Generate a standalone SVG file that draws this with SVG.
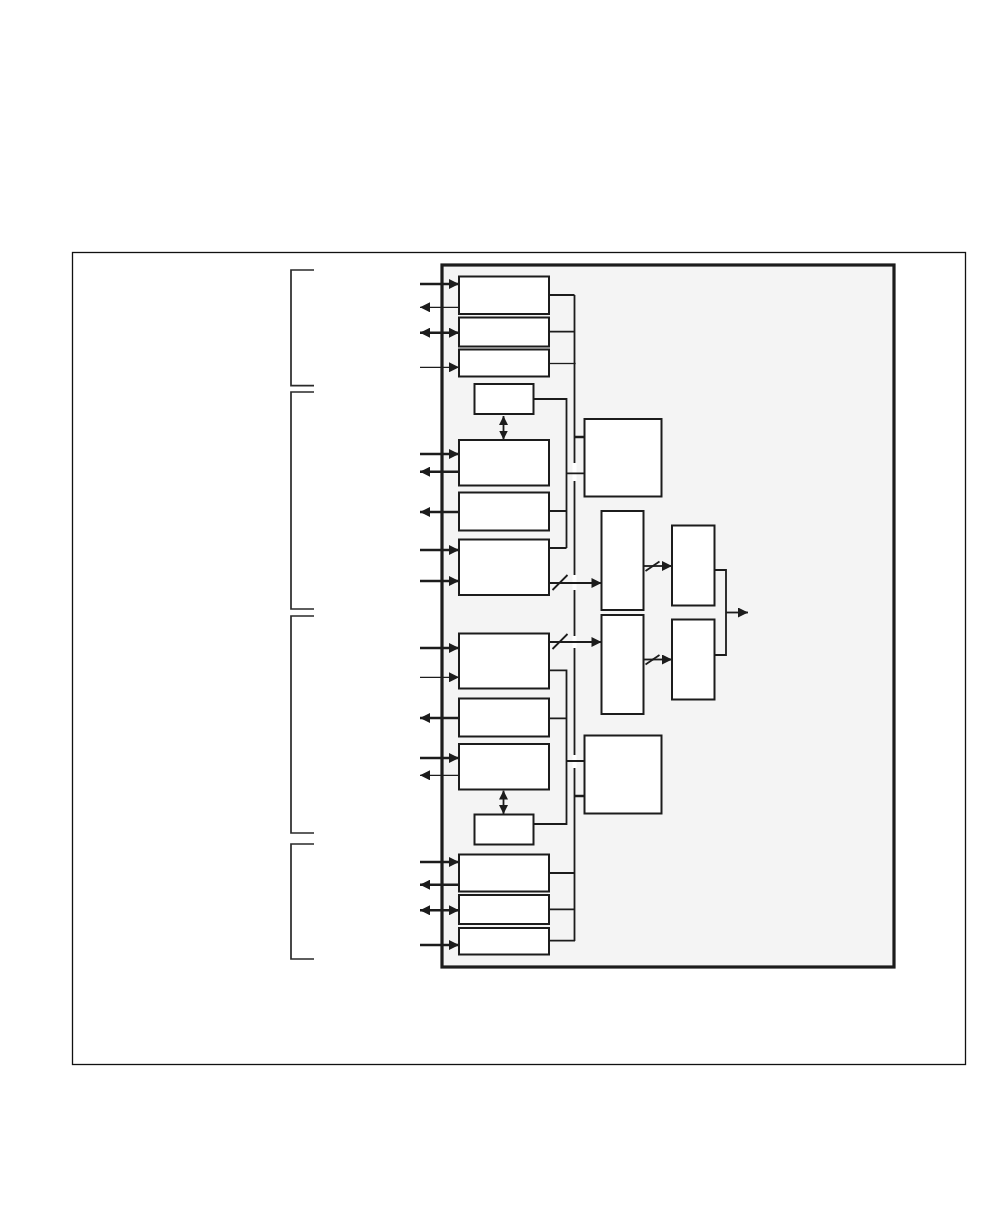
<svg xmlns="http://www.w3.org/2000/svg" width="1008" height="1224" viewBox="0 0 1008 1224">
<defs>
<style>
.frame{fill:none;stroke:#111;stroke-width:1.3}
.main{fill:#f4f4f4;stroke:#1c1c1c;stroke-width:3.2}
.br{fill:none;stroke:#2a2a2a;stroke-width:1.7}
.box{fill:#fff;stroke:#1c1c1c;stroke-width:2}
.w{fill:none;stroke:#1c1c1c;stroke-width:1.8}
.tk{fill:none;stroke:#1c1c1c;stroke-width:2.6}
.tn{fill:none;stroke:#1c1c1c;stroke-width:1.3}
.gap{fill:#fff;stroke:none}
</style>
<marker id="ah" viewBox="0 0 10 10" refX="10" refY="5" markerWidth="11" markerHeight="10" markerUnits="userSpaceOnUse" orient="auto-start-reverse"><path d="M0,0 L10,5 L0,10 z" fill="#1c1c1c"/></marker>
<marker id="ahs" viewBox="0 0 10 10" refX="10" refY="5" markerWidth="9" markerHeight="9" markerUnits="userSpaceOnUse" orient="auto-start-reverse"><path d="M0,0 L10,5 L0,10 z" fill="#1c1c1c"/></marker>
</defs>
<rect class="frame" x="72.5" y="252.5" width="893" height="812"/>
<g id="brackets">
<path class="br" d="M314,270 H291 V385.7 H314"/>
<path class="br" d="M314,392 H291 V609 H314"/>
<path class="br" d="M314,616 H291 V833 H314"/>
<path class="br" d="M314,844 H291 V959 H314"/>
</g>
<g id="chip"><rect class="main" x="442" y="265" width="452" height="702"/></g>
<g id="connectors">
<path class="w" d="M574.5,295 V463 M574.5,481 V575 M574.5,590 V636 M574.5,648 V755 M574.5,768 V941"/>
<rect class="gap" x="572.5" y="463" width="4" height="18"/>
<rect class="gap" x="572.5" y="575" width="4" height="15"/>
<rect class="gap" x="572.5" y="636" width="4" height="12"/>
<rect class="gap" x="572.5" y="755" width="4" height="13"/>
<path class="w" d="M549,295 H574.5 M549,331.7 H574.5"/>
<path class="tn" d="M549,363.5 H575.5"/>
<path class="tk" d="M574.5,437 H584.5 M574.5,796 H584.5"/>
<path class="w" d="M533.5,399 H566.5 V548 M549,511 H566.5 M549,548 H566.5 M566.5,473.3 H584.5"/>
<path class="w" d="M549,670.3 H566.5 V824 H533.5 M549,718.3 H566.5 M566.5,761 H584.5"/>
<path class="w" d="M549,873 H575 M549,909.3 H575 M549,940.7 H575"/>
<path class="w" d="M549,583 H601.5" marker-end="url(#ah)"/>
<path class="w" d="M552.5,590 L567.5,575"/>
<path class="w" d="M549,642 H601.5" marker-end="url(#ah)"/>
<path class="w" d="M552.5,649 L567.5,634"/>
<path class="w" d="M643.5,566 H672" marker-end="url(#ah)"/>
<path class="w" d="M645.5,571 L659.5,561.5"/>
<path class="w" d="M643.5,659.5 H672" marker-end="url(#ah)"/>
<path class="w" d="M645.5,664.5 L659.5,655"/>
<path class="w" d="M714.5,570 H726 V655 H714.5"/>
<path class="w" d="M726,612.5 H748" marker-end="url(#ah)"/>
<path class="w" d="M503.5,416 V439.5" marker-start="url(#ahs)" marker-end="url(#ahs)"/>
<path class="w" d="M503.5,790.5 V814" marker-start="url(#ahs)" marker-end="url(#ahs)"/>
<path class="tk" d="M420,284 H459" marker-end="url(#ah)"/>
<path class="tn" d="M459,307.3 H420" marker-end="url(#ah)"/>
<path class="tk" d="M420,332.7 H459" marker-start="url(#ah)" marker-end="url(#ah)"/>
<path class="tn" d="M420,367.3 H459" marker-end="url(#ah)"/>
<path class="tk" d="M420,454 H459" marker-end="url(#ah)"/>
<path class="tk" d="M459,471.7 H420" marker-end="url(#ah)"/>
<path class="tk" d="M459,512 H420" marker-end="url(#ah)"/>
<path class="tk" d="M420,550 H459" marker-end="url(#ah)"/>
<path class="tk" d="M420,581 H459" marker-end="url(#ah)"/>
<path class="tk" d="M420,648 H459" marker-end="url(#ah)"/>
<path class="tn" d="M420,677.3 H459" marker-end="url(#ah)"/>
<path class="tk" d="M459,718 H420" marker-end="url(#ah)"/>
<path class="tk" d="M420,758 H459" marker-end="url(#ah)"/>
<path class="tn" d="M459,775.3 H420" marker-end="url(#ah)"/>
<path class="tk" d="M420,862 H459" marker-end="url(#ah)"/>
<path class="tk" d="M459,884.7 H420" marker-end="url(#ah)"/>
<path class="tk" d="M420,910.3 H459" marker-start="url(#ah)" marker-end="url(#ah)"/>
<path class="tk" d="M420,945 H459" marker-end="url(#ah)"/>
</g>
<g id="nA"><rect class="box" x="459" y="276.5" width="90" height="37.5"/></g>
<g id="nB"><rect class="box" x="459" y="317.5" width="90" height="29"/></g>
<g id="nC"><rect class="box" x="459" y="349.5" width="90" height="27"/></g>
<g id="nD"><rect class="box" x="474.5" y="384" width="59" height="30"/></g>
<g id="nE"><rect class="box" x="459" y="440" width="90" height="45.5"/></g>
<g id="nF"><rect class="box" x="459" y="492.5" width="90" height="38"/></g>
<g id="nG"><rect class="box" x="459" y="539.5" width="90" height="55.5"/></g>
<g id="nH"><rect class="box" x="584.5" y="419" width="77" height="77.5"/></g>
<g id="nI"><rect class="box" x="601.5" y="511" width="42" height="99"/></g>
<g id="nJ"><rect class="box" x="601.5" y="615" width="42" height="99"/></g>
<g id="nK"><rect class="box" x="672" y="525.5" width="42.5" height="80"/></g>
<g id="nL"><rect class="box" x="672" y="619.5" width="42.5" height="80"/></g>
<g id="nM"><rect class="box" x="459" y="633.5" width="90" height="55"/></g>
<g id="nN"><rect class="box" x="459" y="698.5" width="90" height="38"/></g>
<g id="nO"><rect class="box" x="459" y="744" width="90" height="45.5"/></g>
<g id="nP"><rect class="box" x="474.5" y="814.5" width="59" height="30"/></g>
<g id="nH2"><rect class="box" x="584.5" y="735.5" width="77" height="78"/></g>
<g id="nQ"><rect class="box" x="459" y="854.5" width="90" height="37"/></g>
<g id="nR"><rect class="box" x="459" y="895" width="90" height="29"/></g>
<g id="nS"><rect class="box" x="459" y="928" width="90" height="26.5"/></g>
</svg>
